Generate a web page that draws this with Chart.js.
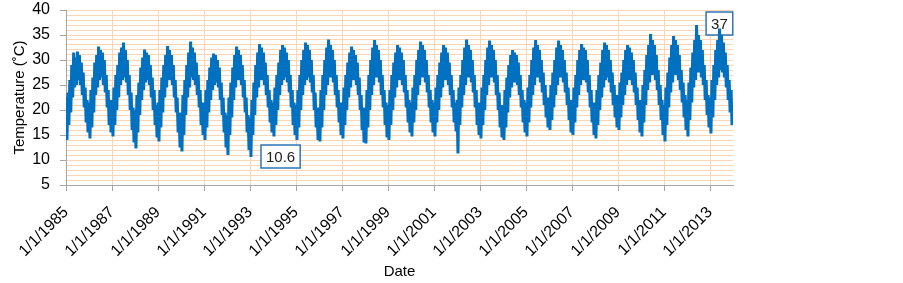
<!DOCTYPE html>
<html>
<head>
<meta charset="utf-8">
<script src="https://cdn.jsdelivr.net/npm/chart.js@4.4.1/dist/chart.umd.min.js"></script>
<style>
  html, body { margin: 0; padding: 0; background: #fff; }
  #chart-container { position: relative; width: 903px; height: 283px; }
</style>
</head>
<body>
<div id="chart-container"><canvas id="tempChart"></canvas></div>
<script>
// 日別気温の推移（1985〜2013）
// 各年: 月ごとに [上側, 下側] を並べた24個の値
const startYear = 1985;
const tickYears = [1985, 1987, 1989, 1991, 1993, 1995, 1997, 1999, 2001, 2003, 2005, 2007, 2009, 2011, 2013];

const t1985 = [22.5,14.0, 23.5,17, 26,19.5, 29,22.5, 31.5,24.5, 30.5,25, 31.7,26, 31,25, 29.5,23, 27.5,20.5, 24.5,17.5, 22,15.5];
const t1986 = [21.5,14.3, 24,16.5, 26.5,19.5, 29.5,23, 31,24.5, 32.7,26, 32,26.5, 31.5,25, 30,23.5, 27,20.5, 24,17, 22,15.5];
const t1987 = [22,14.7, 24.5,17, 27,20, 29,22.5, 31.5,25, 32.5,26, 33.5,26.5, 32,25.5, 30,23, 27,20, 23.5,16, 20.5,13.5];
const t1988 = [20,12.3, 23,15.5, 25.5,19, 28.5,22, 30.5,24, 32.1,25.5, 31.5,26, 31,25, 29,22.5, 26.5,20, 24,17, 21,14.5];
const t1989 = [21.5,13.7, 24,16.5, 26.5,19.5, 29,22.5, 31,24.5, 32.8,26, 32,26, 31,25, 29,22.5, 26,19.5, 22.5,15.5, 19.5,12.5];
const t1990 = [19.5,11.7, 23,15, 26,19, 29,22.5, 31.5,24.5, 33.7,26.5, 32.5,26, 31.5,25, 29.5,23, 27,20.5, 24,17, 21.5,15];
const t1991 = [21.5,14.0, 24,16.5, 26,19.5, 28.5,22, 30.5,24, 31.3,25, 31,25.5, 30,24.5, 28.5,22, 25.5,19, 22.5,15.5, 19.5,12.5];
const t1992 = [19,11.0, 22.5,15, 25.5,18.5, 28.5,22, 31,24.5, 32.7,26, 32,26, 31,25, 29,22.5, 26,19.5, 22.5,15.5, 19,12];
const t1993 = [18.5,10.6, 22,15, 25.5,19, 29,22.5, 31.5,24.5, 33.2,26, 32.5,26, 31.5,25, 29.5,23, 27,20.5, 24,17.5, 22,15.5];
const t1994 = [21.5,14.7, 24.5,17, 27,20, 29.5,23, 32,25, 33,26, 32.5,26.5, 31.5,25.5, 30,23.5, 27,20.5, 24,17, 21.5,15];
const t1995 = [21,14.0, 24,16.5, 27,20, 30,23, 32,25, 33.5,26, 33,26.5, 32,25.5, 30,23.5, 27,20, 23.5,16.5, 20.5,14];
const t1996 = [20.5,13.7, 24,16.5, 27,20, 30,23, 32.5,25, 34.1,26.5, 33,26.5, 32,25.5, 30,23, 27,20.5, 24,17.5, 21.5,15];
const t1997 = [21.5,14.3, 24.5,17, 27,20, 29.5,22.5, 31.5,24.5, 32.7,26, 32,26, 31,25, 29.5,23, 26.5,20, 23,16, 20.5,13.5];
const t1998 = [20.5,13.3, 24,16.5, 27,20, 30,23, 32.5,25, 34,26.5, 33,26.5, 32,25.5, 30,23, 27,20.5, 24,17, 21.5,14.5];
const t1999 = [21,14.0, 24,17, 27,20, 29.5,22.5, 31.5,24.5, 33,26, 32.5,26, 31.5,25, 30,23.5, 27,20.5, 24,17.5, 22,15.5];
const t2000 = [21.5,14.7, 24.5,17.5, 27,20, 30,23, 32,25, 33.7,26.5, 33,26.5, 32,25.5, 30,23.5, 27,20.5, 24,17.5, 22,15.5];
const t2001 = [21.5,14.7, 24.5,17.5, 27,20, 29.5,22.5, 31.5,24.5, 33,26, 32.5,26, 31.5,25, 29.5,23, 27,20.5, 24,17.5, 21.5,16];
const t2002 = [22,11.3, 24.5,17, 27,20.5, 30,23, 32.5,25, 34.1,26.5, 33,26.5, 32,25.5, 30,23.5, 27,20.5, 24,17, 21.5,15];
const t2003 = [21.5,14.3, 24.5,17, 27,20, 30,23, 32.5,25, 33.9,26.5, 33,26.5, 32,25.5, 30,23, 27,20, 23.5,16.5, 21,14.5];
const t2004 = [21,14.0, 24,16.5, 26.5,19.5, 29,22.5, 31,24.5, 32,25.5, 31.5,25.5, 31,25, 29.5,23, 27,20.5, 24,17.5, 22,15.5];
const t2005 = [21.5,14.7, 24.5,17.5, 27,20.5, 30,23, 32.5,25, 34,26.5, 33,26.5, 32,25.5, 30,23.5, 27.5,21, 25,18.5, 22.5,16.5];
const t2006 = [22.5,16.0, 25,18, 27.5,20.5, 30,23, 32.5,25, 33.9,26.5, 33,26.5, 32,25.5, 30,23.5, 27.5,21, 24.5,18, 22,15.5];
const t2007 = [22,15.0, 24.5,17.5, 27,20.5, 30,23, 32,25, 33.2,26, 32.5,26, 32,25.5, 30,23.5, 27,20.5, 24,17.5, 21.5,15];
const t2008 = [21.5,14.3, 24,17, 27,20, 29.5,22.5, 32,24.5, 33.5,26, 33,26.5, 32,25.5, 30,23.5, 27.5,21, 25,18.5, 23,16.5];
const t2009 = [23,16.0, 25.5,18.5, 27.5,21, 30,23, 32,25, 33,26, 32.5,26, 31.5,25, 30,23.5, 27.5,21, 24.5,18, 22,15.5];
const t2010 = [22,14.7, 25,17.5, 28,21, 31,24, 33,25.5, 35.2,27, 34,27, 33,26, 31,24, 28,21, 25,18, 22,15];
const t2011 = [21,13.7, 24.5,17, 27.5,20.5, 30.5,23.5, 33,25.5, 34.8,27, 34,27, 33,26, 31,24, 28,21.5, 25.5,18.5, 23,16];
const t2012 = [22,14.7, 25.5,18, 28.5,21.5, 31.5,24.5, 34,26, 37,27.5, 35,27.5, 34,26.5, 32,25, 29,22, 26,19, 23,16.5];
const t2013 = [22.5,15.3, 26,18.5, 29,22, 32,25, 34,26.5, 36.3,28, 35,27.5, 33.5,26.5, 31.5,24.5, 29,22, 26,19.5, 24,17];

const yearSeries = [
  t1985, t1986, t1987, t1988, t1989, t1990, t1991, t1992, t1993, t1994,
  t1995, t1996, t1997, t1998, t1999, t2000, t2001, t2002, t2003, t2004,
  t2005, t2006, t2007, t2008, t2009, t2010, t2011, t2012, t2013
];

// 吹き出し（最低・最高）
const calloutText = ['10.6', '37'];
const calloutX = [1994.33, 2013.41];
const calloutY = [10.7, 37.3];

// 折れ線用の点を作成
const points = [];
yearSeries.forEach((vals, yi) => {
  vals.forEach((v, k) => {
    points.push({ x: startYear + yi + k / 24, y: v });
  });
});

const gridOrange = '#FCD5B4';
const axisGray = '#A6A6A6';
const fontFamily = "'Liberation Sans', Arial, sans-serif";

// 吹き出しを描くプラグイン
const calloutPlugin = {
  id: 'callouts',
  beforeDatasetsDraw(chart) {
    const ctx = chart.ctx;
    const xs = chart.scales.x;
    const ys = chart.scales.y;
    ctx.save();
    ctx.font = '15px ' + fontFamily;
    ctx.textAlign = 'center';
    ctx.textBaseline = 'middle';
    calloutText.forEach((txt, i) => {
      const cx = xs.getPixelForValue(calloutX[i]);
      const cy = ys.getPixelForValue(calloutY[i]);
      const w = ctx.measureText(txt).width + 10;
      const h = 23;
      ctx.fillStyle = '#fff';
      ctx.fillRect(cx - w / 2, cy - h / 2, w, h);
      ctx.strokeStyle = '#2E75B6';
      ctx.lineWidth = 1.5;
      ctx.strokeRect(cx - w / 2, cy - h / 2, w, h);
      ctx.fillStyle = '#222';
      ctx.fillText(txt, cx, cy + 1);
    });
    ctx.restore();
  }
};

const ctx = document.getElementById('tempChart');
new Chart(ctx, {
  type: 'line',
  data: {
    datasets: [{
      label: 'Temperature',
      data: points,
      borderColor: '#0070C0',
      borderWidth: 3,
      pointRadius: 0,
      tension: 0,
      fill: false
    }]
  },
  options: {
    responsive: true,
    maintainAspectRatio: false,
    animation: false,
    layout: {
      padding: { left: 0, right: 170, top: 10, bottom: 0 }
    },
    plugins: {
      legend: { display: false },
      tooltip: { enabled: false }
    },
    scales: {
      x: {
        type: 'linear',
        min: 1985,
        max: 2014,
        afterBuildTicks: function(scale) {
          scale.ticks = tickYears.map(v => ({ value: v }));
        },
        afterFit: function(scale) {
          scale.height = 98;
        },
        grid: {
          color: gridOrange,
          tickColor: axisGray,
          tickLength: 6
        },
        border: { color: axisGray },
        ticks: {
          autoSkip: false,
          maxRotation: 45,
          minRotation: 45,
          padding: 12,
          color: '#000',
          font: { family: fontFamily, size: 16 },
          callback: function(value) {
            return '1/1/' + value;
          }
        },
        title: {
          display: true,
          text: 'Date',
          color: '#000',
          font: { family: fontFamily, size: 15 },
          padding: { top: 0, bottom: 2 }
        }
      },
      y: {
        min: 5,
        max: 40,
        afterFit: function(scale) {
          // 幅を固定し、上下の余白はレイアウト側で指定
          scale.width = 66;
          scale.paddingTop = 0;
          scale.paddingBottom = 0;
        },
        grid: {
          color: gridOrange,
          tickColor: function(c) {
            return c.tick && c.tick.value % 5 === 0 ? axisGray : 'rgba(0,0,0,0)';
          },
          tickLength: 6
        },
        border: { color: axisGray },
        ticks: {
          stepSize: 1,
          autoSkip: false,
          padding: 10,
          color: '#000',
          font: { family: fontFamily, size: 16 },
          callback: function(value) {
            return value % 5 === 0 ? value : '';
          }
        },
        title: {
          display: true,
          text: 'Temperature (˚C)',
          color: '#000',
          font: { family: fontFamily, size: 15 },
          padding: { top: 11, bottom: 0 }
        }
      }
    }
  },
  plugins: [calloutPlugin]
});
</script>
</body>
</html>
